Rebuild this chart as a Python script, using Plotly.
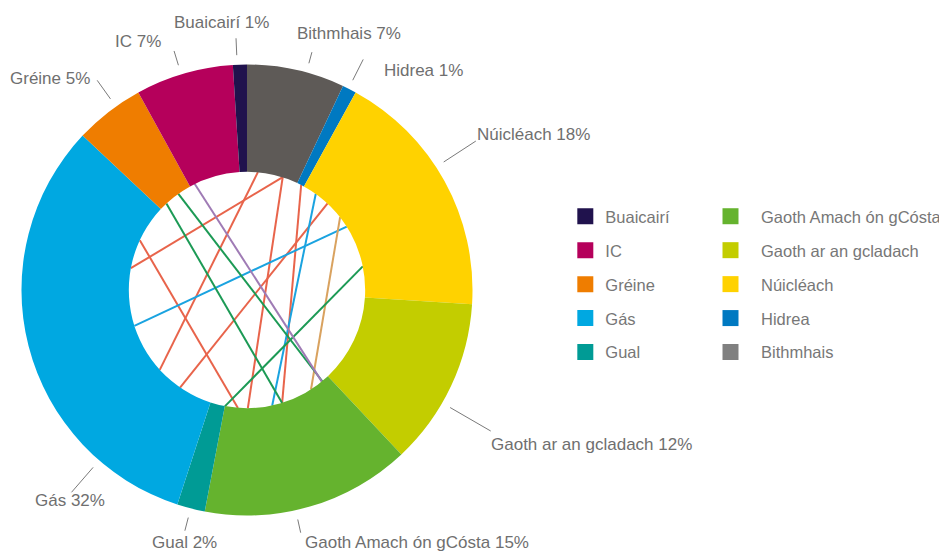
import numpy as np
import plotly.graph_objects as go

# slices, clockwise from 12 o'clock
LABELS = ["Bithmhais", "Hidrea", "Núicléach", "Gaoth ar an gcladach", "Gaoth Amach ón gCósta",
          "Gual", "Gás", "Gréine", "IC", "Buaicairí"]
VALUES = [7, 1, 18, 12, 15, 2, 32, 5, 7, 1]
COLOURS = ["#5E5A57", "#0079C1", "#FFD200", "#C3CD00", "#65B32E",
           "#009B95", "#00A8E1", "#EF7D00", "#B5005B", "#20124D"]
SWATCHES = ["#808080"] + COLOURS[1:]

# chords drawn inside the hole: end angles (degrees clockwise from top)
CHORD_FROM = [280.6, 5.3, 17.6, 27.3, 43.0, 294.9, 35.6, 57.6, 52.0, 317.0, 324.4, 78.5, 333.7]
CHORD_TO = [17.6, 227.6, 179.6, 162.7, 214.5, 184.4, 167.7, 252.4, 147.2, 162.7, 140.4, 190.8, 140.7]
CHORD_GROUP = ["red"] * 6 + ["blue", "blue", "tan", "green", "green", "green", "purple"]
CHORD_COLOURS = {"red": "#E8644B", "blue": "#1AA3E0", "tan": "#D9A25F",
                 "green": "#1C9A55", "purple": "#9F7BB5"}

# label placement (same order as LABELS): leader angle, leader reach, text anchor and nudge
LABEL_ANGLE = [15.3, 26.8, 57, 120, 167.5, 194.5, 221, 324.4, 343, 357.5]
LABEL_REACH = [1.091, 1.143, 1.21, 1.248, 1.10, 1.10, 1.186, 1.141, 1.106, 1.115]
LABEL_ANCHOR = ["left", "left", "left", "left", "left", "center", "center", "right", "right", "center"]
LABEL_NUDGE = [(-17, 19), (19, -11), (-1, 7), (-2, -13), (2, -10),
               (0, -12), (-2, -8), (-5, 2), (-11, 9), (-15, 16)]

# the page body adds an 8px margin, so the figure is drawn 8px smaller and offset
W, H = 939, 545
CX, CY, R = 239.5, 282, 226   # pie centre (from figure top-left) and outer radius in px
HOLE = 0.524
TEXT = "#6f6f6f"
FONT = "Arial, Liberation Sans, sans-serif"


def polar(angle, r):
    t = np.radians(np.asarray(angle, dtype=float))
    return r * np.sin(t), r * np.cos(t)


fig = go.Figure()

fig.add_trace(go.Pie(
    labels=LABELS, values=VALUES, sort=False, direction="clockwise", rotation=0,
    hole=HOLE, marker=dict(colors=COLOURS, line=dict(width=0)),
    textinfo="none", hoverinfo="label+percent", showlegend=False,
    domain=dict(x=[(CX - R) / W, (CX + R) / W], y=[(H - CY - R) / H, (H - CY + R) / H]),
))

for group, colour in CHORD_COLOURS.items():
    xs, ys = [], []
    for a, b, g in zip(CHORD_FROM, CHORD_TO, CHORD_GROUP):
        if g != group:
            continue
        x, y = polar([a, b], HOLE)
        xs += list(x) + [None]
        ys += list(y) + [None]
    fig.add_trace(go.Scatter(x=xs, y=ys, mode="lines", line=dict(color=colour, width=2),
                             hoverinfo="skip", showlegend=False))

# leader lines
lx, ly = [], []
for ang, reach in zip(LABEL_ANGLE, LABEL_REACH):
    x, y = polar([ang, ang], np.array([1.04, reach]))
    lx += list(x) + [None]
    ly += list(y) + [None]
fig.add_trace(go.Scatter(x=lx, y=ly, mode="lines", line=dict(color="#7a7a7a", width=1),
                         hoverinfo="skip", showlegend=False))

for label, value, ang, reach, anchor, (dx, dy) in zip(
        LABELS, VALUES, LABEL_ANGLE, LABEL_REACH, LABEL_ANCHOR, LABEL_NUDGE):
    x, y = polar(ang, reach)
    fig.add_annotation(x=float(x), y=float(y), text=f"{label} {value}%", showarrow=False,
                       xanchor=anchor, yanchor="middle", xshift=dx, yshift=dy,
                       font=dict(size=17, color=TEXT, family=FONT))

# legend: reverse slice order, split over two columns
order = list(range(len(LABELS)))[::-1]
for n, i in enumerate(order):
    fig.add_trace(go.Scatter(
        x=[None], y=[None], mode="markers", name=LABELS[i], legendgroup=LABELS[i],
        marker=dict(symbol="square", size=17, color=SWATCHES[i]),
        legend="legend" if n < 5 else "legend2",
    ))

legend_style = dict(yanchor="top", xanchor="left", bgcolor="rgba(0,0,0,0)", tracegroupgap=9.5,
                    font=dict(size=16.5, color="#777777", family=FONT))
fig.update_layout(
    width=W, height=H, autosize=False,
    margin=dict(l=0, r=0, t=0, b=0),
    paper_bgcolor="white", plot_bgcolor="white",
    xaxis=dict(range=[-CX / R, (W - CX) / R], visible=False, domain=[0, 1]),
    yaxis=dict(range=[-(H - CY) / R, CY / R], visible=False, domain=[0, 1]),
    legend=dict(x=558.5 / W, y=(H - 191) / H, **legend_style),
    legend2=dict(x=693.5 / W, y=(H - 191) / H, itemwidth=51, **legend_style),
    showlegend=True,
)

fig.write_html("out.html")
